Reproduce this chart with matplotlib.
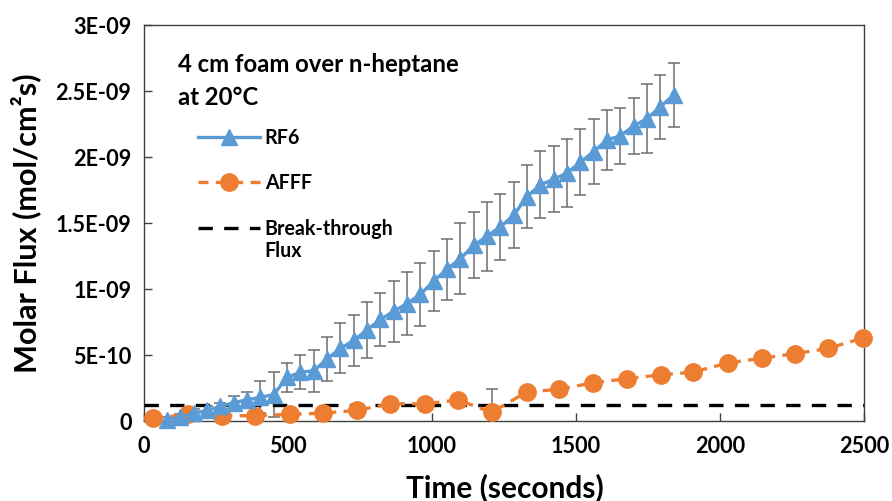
import matplotlib
matplotlib.use("Agg")
import matplotlib.pyplot as plt
from matplotlib.textpath import TextPath
from matplotlib.font_manager import FontProperties

# ---------------- data ----------------
rf6_time = [80, 126, 173, 219, 265, 312, 358, 404, 450, 497, 543, 589, 636, 682,
            728, 774, 821, 867, 913, 960, 1006, 1052, 1098, 1145, 1191, 1237,
            1284, 1330, 1376, 1422, 1469, 1515, 1561, 1608, 1654, 1700, 1746,
            1793, 1839]
rf6_flux_e9 = [0.01, 0.03, 0.06, 0.08, 0.11, 0.14, 0.16, 0.18, 0.20, 0.33, 0.37,
               0.38, 0.47, 0.55, 0.61, 0.69, 0.77, 0.83, 0.89, 0.96, 1.06, 1.15,
               1.23, 1.33, 1.40, 1.47, 1.56, 1.70, 1.79, 1.83, 1.88, 1.96, 2.04,
               2.13, 2.16, 2.235, 2.29, 2.38, 2.47]
rf6_err_e9 = [0.02, 0.02, 0.03, 0.03, 0.03, 0.05, 0.06, 0.12, 0.17, 0.11, 0.13,
              0.16, 0.17, 0.19, 0.19, 0.21, 0.20, 0.23, 0.24, 0.24, 0.23, 0.23,
              0.27, 0.25, 0.26, 0.25, 0.25, 0.24, 0.255, 0.25, 0.257, 0.25, 0.245,
              0.228, 0.21, 0.215, 0.26, 0.245, 0.24]

afff_time = [32, 154, 270, 385, 507, 623, 738, 854, 976, 1091, 1207, 1329, 1442,
             1560, 1676, 1794, 1907, 2027, 2145, 2260, 2376, 2498]
afff_flux_e9 = [0.02, 0.05, 0.04, 0.04, 0.05, 0.06, 0.08, 0.13, 0.13, 0.16, 0.065,
                0.22, 0.24, 0.29, 0.32, 0.35, 0.37, 0.44, 0.475, 0.51, 0.55, 0.63]
afff_err_e9 = [0, 0, 0, 0, 0, 0, 0, 0, 0, 0, 0.175, 0, 0, 0, 0, 0, 0, 0, 0, 0, 0, 0]

breakthrough_flux = 1.2e-10

x_ticks = [0, 500, 1000, 1500, 2000, 2500]
y_ticks = [0, 5e-10, 1e-9, 1.5e-9, 2e-9, 2.5e-9, 3e-9]
y_tick_labels = ["0", "5E-10", "1E-09", "1.5E-09", "2E-09", "2.5E-09", "3E-09"]

series_names = ["RF6", "AFFF", "Break-through"]
series_name_extra = "Flux"
annotation_lines = ["4 cm foam over n-heptane", "at 20\u00b0C"]
x_label = "Time (seconds)"
y_label = "Molar Flux (mol/cm\u00b2s)"

# ---------------- style ----------------
FONT = ["Lato", "DejaVu Sans"]
plt.rcParams["font.family"] = FONT
plt.rcParams["font.weight"] = "bold"
DPI = 100


def fit_size(text, target_px):
    """font size (pt) giving the wanted rendered width in pixels"""
    fp = FontProperties(family=FONT, weight="bold", size=100)
    w = TextPath((0, 0), text, prop=fp).get_extents().width
    return 100 * target_px * 72 / DPI / w


BLUE = "#5B9BD5"
ORANGE = "#ED7D31"
SPINE = "#404040"
ERR = "#6e6e6e"

tick_fs = fit_size("2.5E-09", 74)
xlabel_fs = fit_size(x_label, 196)
ylabel_fs = fit_size(y_label, 297)
annot_fs = fit_size(annotation_lines[0], 280)
legend_fs = fit_size(series_names[2], 125)

W, H = 892, 501
fig = plt.figure(figsize=(W / DPI, H / DPI), dpi=DPI)
ax = fig.add_axes([144 / W, 1 - 421 / H, 720 / W, 396 / H])

rf6_y = [v * 1e-9 for v in rf6_flux_e9]
rf6_e = [v * 1e-9 for v in rf6_err_e9]
afff_y = [v * 1e-9 for v in afff_flux_e9]
afff_e = [v * 1e-9 for v in afff_err_e9]

ax.errorbar(rf6_time, rf6_y, yerr=rf6_e, fmt="none", ecolor=ERR,
            elinewidth=1.1, capsize=4, capthick=1.1, zorder=2)
ax.errorbar(afff_time, afff_y, yerr=afff_e, fmt="none", ecolor=ERR,
            elinewidth=1.1, capsize=4, capthick=1.1, zorder=2)

bt_line, = ax.plot([x_ticks[0], x_ticks[-1]], [breakthrough_flux, breakthrough_flux],
                   color="black", lw=2.4, dashes=(4.3, 3.4), zorder=3)
afff_line, = ax.plot(afff_time, afff_y, color=ORANGE, lw=2.4, dashes=(3, 2.2),
                     marker="o", markersize=12.5, markeredgecolor=ORANGE,
                     markerfacecolor=ORANGE, zorder=4, clip_on=False)
rf6_line, = ax.plot(rf6_time, rf6_y, color=BLUE, lw=2.4, marker="^",
                    markersize=11, markeredgecolor=BLUE, markerfacecolor=BLUE,
                    zorder=5, clip_on=False)

ax.set_xlim(x_ticks[0], x_ticks[-1])
ax.set_ylim(y_ticks[0], y_ticks[-1])
ax.set_xticks(x_ticks)
ax.set_xticklabels([str(v) for v in x_ticks])
ax.set_yticks(y_ticks)
ax.set_yticklabels(y_tick_labels)

ax.tick_params(axis="both", direction="in", length=6, width=1, color=SPINE,
               labelsize=tick_fs, top=False, right=False)
ax.tick_params(axis="x", pad=11)
ax.tick_params(axis="y", pad=9)
for lab in ax.get_xticklabels() + ax.get_yticklabels():
    lab.set_fontweight("bold")
for sp in ax.spines.values():
    sp.set_color(SPINE)
    sp.set_linewidth(1.0)

fig.text(505 / W, 1 - 488 / H, x_label, ha="center", va="center",
         fontsize=xlabel_fs, fontweight="bold")
fig.text(26 / W, 1 - 223 / H, y_label, ha="center", va="center",
         rotation=90, fontsize=ylabel_fs, fontweight="bold")

# annotation (legend title lines)
ax.text((178 - 144) / 720, (421 - 72) / 396, annotation_lines[0],
        transform=ax.transAxes, ha="left", va="baseline",
        fontsize=annot_fs, fontweight="bold")
ax.text((178 - 144) / 720, (421 - 105) / 396, annotation_lines[1],
        transform=ax.transAxes, ha="left", va="baseline",
        fontsize=annot_fs, fontweight="bold")

# ---------------- legend ----------------
fs_px = legend_fs * DPI / 72
handle_px = 62
target_handle_x = 190       # px, left end of legend lines
target_row_y = [137.7, 183.3, 230.0]   # px from top, row centres


def make_legend(spacing, anchor):
    lg = ax.legend([rf6_line, afff_line, bt_line], series_names,
                   loc="upper left", bbox_to_anchor=anchor,
                   bbox_transform=fig.transFigure,
                   frameon=False, fontsize=legend_fs,
                   handlelength=handle_px / fs_px, handletextpad=5 / fs_px,
                   labelspacing=spacing, borderpad=0, borderaxespad=0)
    for t in lg.get_texts():
        t.set_fontweight("bold")
    return lg


anchor0 = (target_handle_x / W, 1 - 120 / H)
leg = make_legend(1.0, anchor0)
fig.canvas.draw()
r = fig.canvas.get_renderer()
ex = [t.get_window_extent(r) for t in leg.get_texts()]
d = (ex[0].y0 + ex[0].y1) / 2 - (ex[1].y0 + ex[1].y1) / 2
spacing = 1.0 + ((target_row_y[1] - target_row_y[0]) - d) / fs_px
leg.remove()
leg = make_legend(spacing, anchor0)
fig.canvas.draw()
ex = [t.get_window_extent(r) for t in leg.get_texts()]
hl = leg.get_lines()[0].get_window_extent(r)
cy = (ex[0].y0 + ex[0].y1) / 2           # display coords, from bottom
dy = (H - target_row_y[0]) - cy
dx = target_handle_x - hl.x0 + 0.0
leg.set_bbox_to_anchor(((target_handle_x + dx) / W, 1 - 120 / H + dy / H),
                       transform=fig.transFigure)
fig.canvas.draw()
bt_ext = leg.get_texts()[2].get_window_extent(r)
ax.annotate(series_name_extra, xy=(bt_ext.x0, bt_ext.y0), xycoords="figure pixels",
            xytext=(0, -2), textcoords="offset pixels",
            ha="left", va="top", fontsize=legend_fs, fontweight="bold")

fig.savefig("out.png", dpi=DPI, facecolor="white")
